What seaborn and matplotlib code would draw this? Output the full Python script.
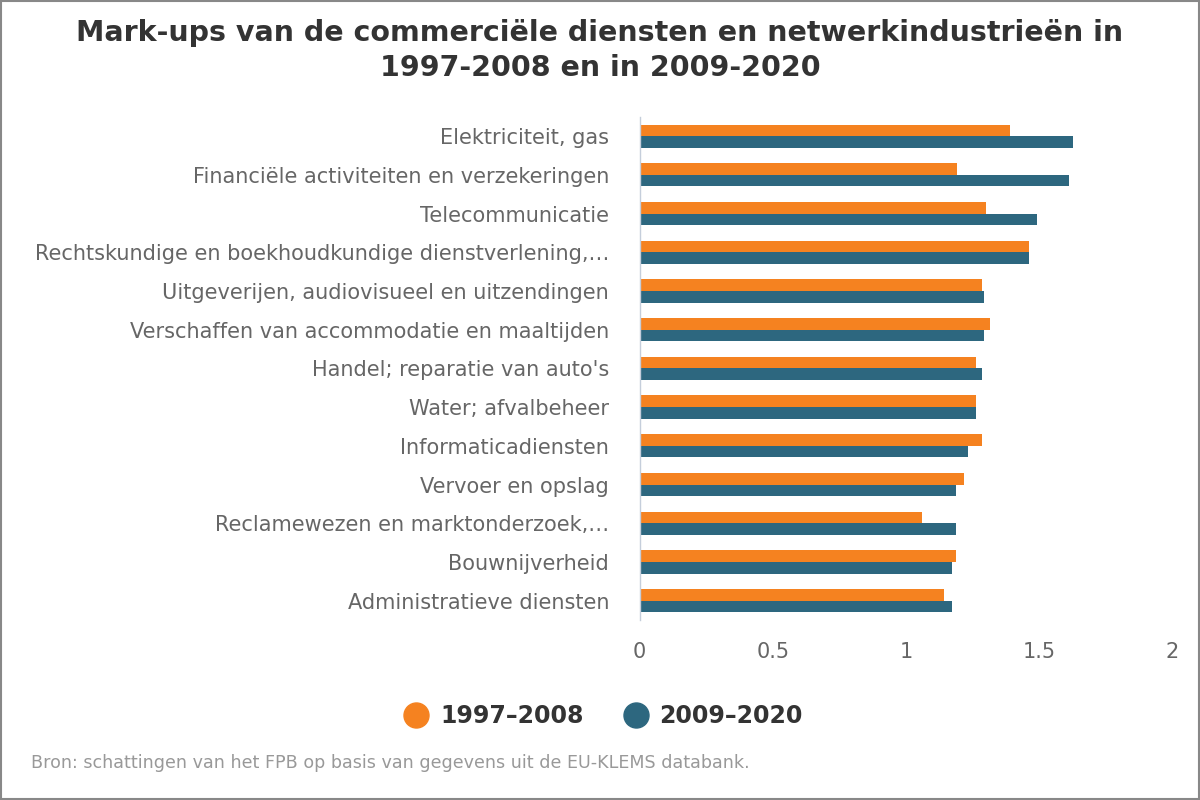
import matplotlib
matplotlib.use("Agg")
import matplotlib.pyplot as plt
import pandas as pd
import seaborn as sns
from matplotlib.lines import Line2D
from matplotlib.patches import Rectangle

categories = [
    "Elektriciteit, gas",
    "Financiële activiteiten en verzekeringen",
    "Telecommunicatie",
    "Rechtskundige en boekhoudkundige dienstverlening,…",
    "Uitgeverijen, audiovisueel en uitzendingen",
    "Verschaffen van accommodatie en maaltijden",
    "Handel; reparatie van auto's",
    "Water; afvalbeheer",
    "Informaticadiensten",
    "Vervoer en opslag",
    "Reclamewezen en marktonderzoek,…",
    "Bouwnijverheid",
    "Administratieve diensten",
]
periods = ["1997-2008", "2009-2020"]
vals_1997_2008 = [1.39, 1.19, 1.30, 1.46, 1.287, 1.317, 1.264, 1.264, 1.287, 1.219, 1.061, 1.189, 1.144]
vals_2009_2020 = [1.625, 1.61, 1.49, 1.46, 1.294, 1.294, 1.287, 1.264, 1.234, 1.189, 1.189, 1.174, 1.174]
colors = ["#F58220", "#2D677F"]

df = pd.DataFrame({
    "Sector": categories * 2,
    "Periode": [periods[0]] * len(categories) + [periods[1]] * len(categories),
    "Markup": vals_1997_2008 + vals_2009_2020,
})

sns.set_theme(style="white")
plt.rcParams['font.family'] = ['DejaVu Sans']

fig = plt.figure(figsize=(12, 8), dpi=100)
ax = fig.add_axes([0.533, 0.225, 0.444, 0.629])

sns.barplot(data=df, y="Sector", x="Markup", hue="Periode", order=categories,
            hue_order=periods, palette=colors, width=0.6, orient="h",
            saturation=1, legend=False, linewidth=0, ax=ax)

ax.set_xlim(0, 2)
ax.set_xticks([0, 0.5, 1, 1.5, 2])
ax.set_xticklabels(["0", "0.5", "1", "1.5", "2"])
ax.set_xlabel("")
ax.set_ylabel("")
for s in ["top", "right", "bottom"]:
    ax.spines[s].set_visible(False)
ax.spines["left"].set_color("#C5CEDB")
ax.spines["left"].set_linewidth(1)
ax.tick_params(axis="y", length=0, pad=22, labelsize=15, labelcolor="#666666")
ax.tick_params(axis="x", length=0, pad=16, labelsize=15, labelcolor="#666666")

fig.suptitle("Mark-ups van de commerciële diensten en netwerkindustrieën in\n1997-2008 en in 2009-2020",
             x=0.5, y=0.976, fontsize=20.5, fontweight="bold", color="#333333", linespacing=1.3)

handles = [Line2D([0], [0], marker="o", linestyle="", markersize=18,
                  markerfacecolor=c, markeredgecolor=c) for c in colors]
fig.legend(handles, ["1997–2008", "2009–2020"], loc="center", bbox_to_anchor=(0.503, 0.105),
           ncol=2, frameon=False, handlelength=1.0, handletextpad=0.5, columnspacing=1.7,
           prop={"size": 17, "weight": "bold"}, labelcolor="#333333")

fig.text(0.026, 0.046, "Bron: schattingen van het FPB op basis van gegevens uit de EU-KLEMS databank.",
         fontsize=12.6, color="#999999", va="center")

fig.patches.append(Rectangle((0.001, 0.001), 0.998, 0.998, transform=fig.transFigure,
                             fill=False, edgecolor="#888888", linewidth=1.5))

fig.savefig("out.png", dpi=100)
